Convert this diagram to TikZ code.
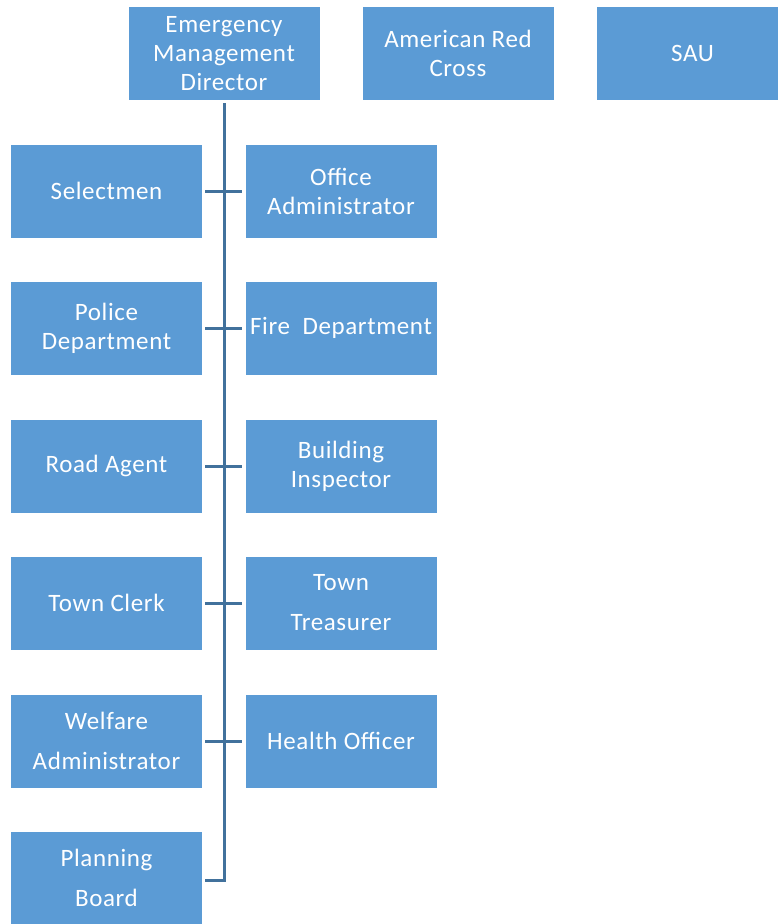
\documentclass[tikz,border=0pt]{standalone}
\usepackage{fontspec}
\setmainfont{Carlito}[LetterSpace=2.5]
\begin{document}
\begin{tikzpicture}[x=1pt,y=-1pt,
  box/.style={fill=boxblue,draw=none,minimum width=191pt,minimum height=93pt,
    text=white,align=center,font=\fontsize{25}{29}\selectfont,inner sep=0pt},
  conn/.style={draw=lineblue,line width=3pt},
  gap/.style={shorten <=3pt,shorten >=3pt}]
\definecolor{boxblue}{HTML}{5B9BD5}
\definecolor{lineblue}{HTML}{41719C}
\useasboundingbox (0,0) rectangle (777,924);
% top row
\node[box] (emd) at (224,53.5) {Emergency\\Management\\Director};
\node[box] (arc) at (458,53.5) {American Red\\Cross};
\node[box] (sau) at (692.5,53.5) {SAU};
% left column
\node[box] (sel) at (106.5,191) {Selectmen};
\node[box] (pol) at (106.5,328) {Police\\Department};
\node[box] (road) at (106.5,466) {Road Agent};
\node[box] (clerk) at (106.5,603) {Town Clerk};
\node[box] (welf) at (106.5,741) {Welfare\\[11pt]Administrator};
\node[box] (plan) at (106.5,878) {Planning\\[11pt]Board};
% right column
\node[box] (off) at (341,191) {Office\\Administrator};
\node[box] (fire) at (341,328) {Fire\ \ Department};
\node[box] (bld) at (341,466) {Building\\Inspector};
\node[box] (treas) at (341,603) {Town\\[11pt]Treasurer};
\node[box] (health) at (341,741) {Health Officer};
% connectors
\coordinate (spend) at (224,880);
\draw[conn,shorten <=3pt] (emd.south) -- (spend);
\draw[conn,gap] (sel.east) -- (off.west);
\draw[conn,gap] (pol.east) -- (fire.west);
\draw[conn,gap] (road.east) -- (bld.west);
\draw[conn,gap] (clerk.east) -- (treas.west);
\draw[conn,gap] (welf.east) -- (health.west);
\draw[conn,shorten <=3pt] (plan.east |- spend) -- ([xshift=1.5pt]spend);
\end{tikzpicture}
\end{document}
